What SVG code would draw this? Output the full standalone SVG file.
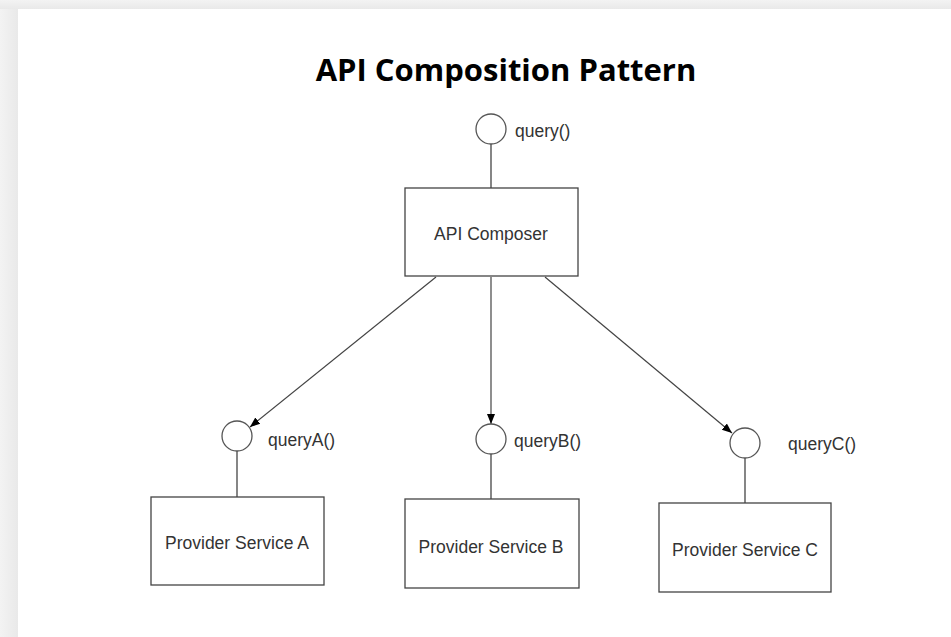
<svg xmlns="http://www.w3.org/2000/svg" width="951" height="637" viewBox="0 0 951 637">
<defs>
<linearGradient id="gl" x1="0" y1="0" x2="1" y2="0"><stop offset="0" stop-color="#f3f3f3"/><stop offset="1" stop-color="#e9e9e9"/></linearGradient>
<linearGradient id="gt" x1="0" y1="0" x2="0" y2="1"><stop offset="0" stop-color="#f3f3f3"/><stop offset="1" stop-color="#e9e9e9"/></linearGradient>
<marker id="ah" viewBox="0 0 10 10" refX="10" refY="5" markerWidth="10" markerHeight="10" markerUnits="userSpaceOnUse" orient="auto">
<path d="M0,1 L10,5 L0,9 Z" fill="#000"/>
</marker>
</defs>
<style>
.box{fill:#fff;stroke:#444;stroke-width:1.3}
.port{fill:#fff;stroke:#555;stroke-width:1.3}
.stem{stroke:#444;stroke-width:1.3;fill:none}
.conn{stroke:#444;stroke-width:1.2;fill:none;marker-end:url(#ah)}
.lbl{font-family:"Liberation Sans",Arial,sans-serif;font-size:17.5px;fill:#333}
.title{font-family:"Open Sans",sans-serif;font-weight:bold;font-size:31px;fill:#000}
</style>
<rect x="0" y="0" width="951" height="637" fill="#f0f0f0"/>
<rect x="0" y="0" width="18" height="637" fill="url(#gl)"/>
<rect x="0" y="0" width="951" height="9" fill="url(#gt)"/>
<rect x="18" y="9" width="933" height="628" fill="#fff"/>
<text class="title" x="506" y="81" text-anchor="middle">API Composition Pattern</text>

<g id="connectors">
<line class="conn" x1="436" y1="277" x2="250" y2="427"/>
<line class="conn" x1="491" y1="277" x2="491" y2="424"/>
<line class="conn" x1="545" y1="277" x2="732" y2="433"/>
</g>

<g id="api-composer">
<line class="stem" x1="491" y1="144" x2="491" y2="188"/>
<circle class="port" cx="491" cy="129" r="15"/>
<text class="lbl" x="515" y="137">query()</text>
<rect class="box" x="405" y="188" width="173" height="88"/>
<text class="lbl" x="491" y="240" text-anchor="middle">API Composer</text>
</g>

<g id="provider-a">
<line class="stem" x1="237" y1="451" x2="237" y2="497"/>
<circle class="port" cx="237" cy="436" r="15"/>
<text class="lbl" x="268" y="446">queryA()</text>
<rect class="box" x="151" y="497" width="173" height="88"/>
<text class="lbl" x="237" y="549" text-anchor="middle">Provider Service A</text>
</g>

<g id="provider-b">
<line class="stem" x1="491" y1="454" x2="491" y2="499"/>
<circle class="port" cx="491" cy="439" r="15"/>
<text class="lbl" x="514" y="447">queryB()</text>
<rect class="box" x="405" y="499" width="174" height="89"/>
<text class="lbl" x="491" y="553" text-anchor="middle">Provider Service B</text>
</g>

<g id="provider-c">
<line class="stem" x1="745" y1="458" x2="745" y2="503"/>
<circle class="port" cx="745" cy="443" r="15"/>
<text class="lbl" x="788" y="450">queryC()</text>
<rect class="box" x="659" y="503" width="172" height="89"/>
<text class="lbl" x="745" y="556" text-anchor="middle">Provider Service C</text>
</g>
</svg>
